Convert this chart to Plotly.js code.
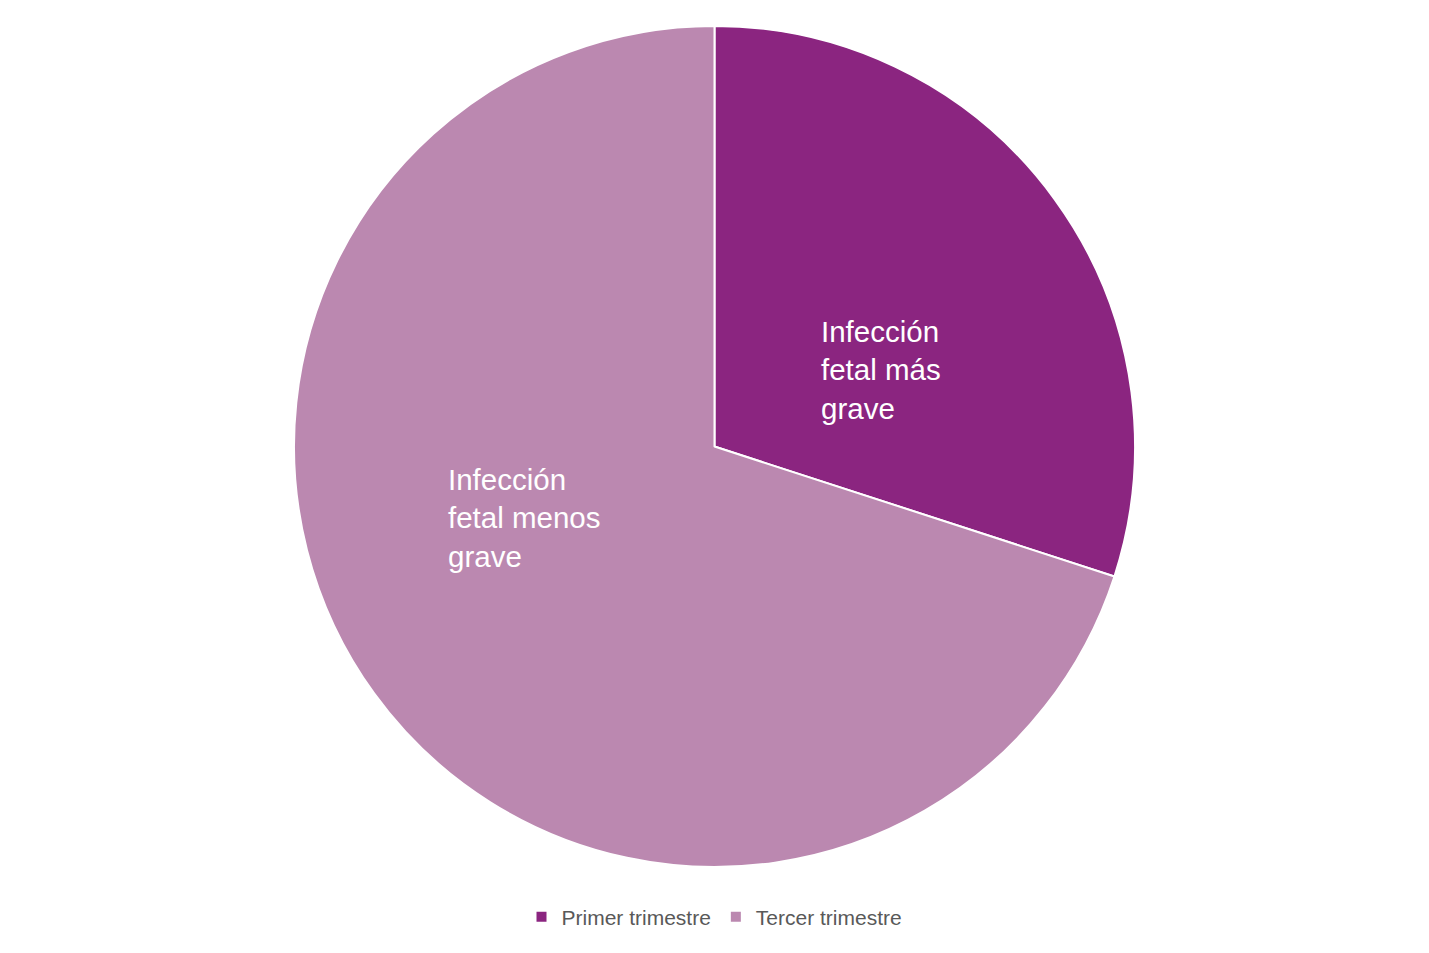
<!DOCTYPE html>
<html>
<head>
<meta charset="utf-8">
<script src="https://cdn.plot.ly/plotly-3.0.1.min.js"></script>
<style>html,body{margin:0;padding:0;background:#fff;}#chart{width:1429px;height:953px;}</style>
</head>
<body>
<div id="chart"></div>
<script>
const categories = ["Primer trimestre", "Tercer trimestre"];
const values = [30, 70];
const sliceLabels = ["Infección<br>fetal más<br>grave", "Infección<br>fetal menos<br>grave"];
const colors = ["#8B2580", "#BB88B0"];

const trace = {
  type: "pie",
  labels: categories,
  values: values,
  sort: false,
  direction: "clockwise",
  rotation: 0,
  marker: { colors: colors, line: { color: "#ffffff", width: 2 } },
  textinfo: "none",
  hoverinfo: "label+percent",
  domain: { x: [0, 1], y: [0, 1] }
};

const layout = {
  width: 1429,
  height: 953,
  margin: { l: 0, r: 0, t: 26, b: 86 },
  paper_bgcolor: "#ffffff",
  plot_bgcolor: "#ffffff",
  font: { family: "Liberation Sans, Arial, sans-serif" },
  showlegend: true,
  legend: {
    orientation: "h",
    x: 0.5, xanchor: "center",
    y: -0.0595, yanchor: "middle",
    font: { size: 21, color: "#595959" },
    itemwidth: 30,
    traceorder: "normal"
  },
  annotations: [
    { text: sliceLabels[0], x: 819/1429, y: (867-370)/841, xref: "paper", yref: "paper",
      xanchor: "left", yanchor: "middle", align: "left", showarrow: false,
      font: { size: 29.5, color: "#ffffff", family: "Liberation Sans, Arial, sans-serif" } },
    { text: sliceLabels[1], x: 446/1429, y: (867-518)/841, xref: "paper", yref: "paper",
      xanchor: "left", yanchor: "middle", align: "left", showarrow: false,
      font: { size: 29.5, color: "#ffffff", family: "Liberation Sans, Arial, sans-serif" } }
  ]
};

Plotly.newPlot("chart", [trace], layout, { displayModeBar: false, staticPlot: true });
</script>
</body>
</html>
